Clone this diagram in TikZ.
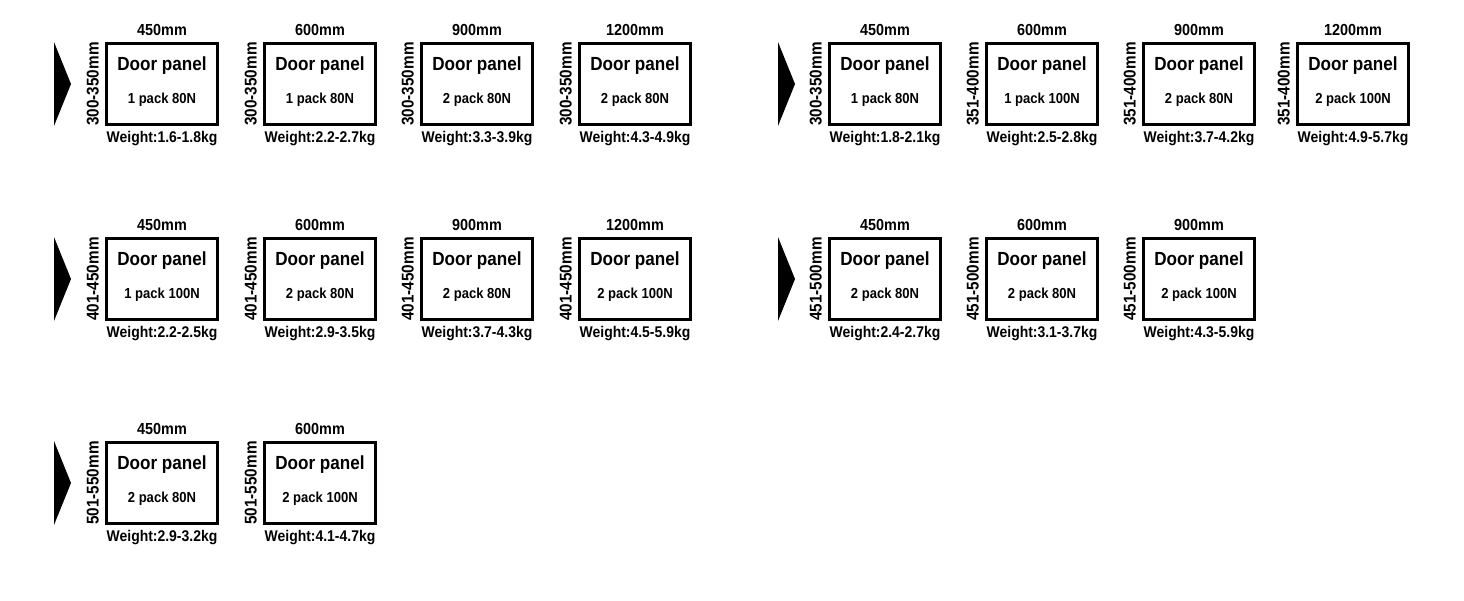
\documentclass[tikz,border=0pt]{standalone}
\usepackage{fontspec}
\setmainfont{Liberation Sans}[FakeStretch=0.9]
\usepackage{tikz}
\tikzset{
  panel/.style  = {rectangle, draw=black, line width=3pt, minimum width=111pt,
                   minimum height=81pt, inner sep=0pt},
  hlab/.style   = {font=\fontsize{16}{16}\selectfont\bfseries, inner sep=0pt, anchor=south},
  vlab/.style   = {font=\fontsize{17}{17}\selectfont\bfseries, inner sep=0pt, rotate=90,
                   anchor=south},
  kglab/.style  = {font=\fontsize{15.5}{16}\selectfont\bfseries, inner sep=0pt, anchor=north},
  title/.style  = {font=\fontsize{19}{19}\selectfont\bfseries, inner sep=0pt, anchor=base},
  pack/.style   = {font=\fontsize{14.5}{15}\selectfont\bfseries, inner sep=0pt, anchor=base},
  marker/.style = {fill=black},
}

\begin{document}
\begin{tikzpicture}[x=1pt, y=-1pt]
  \useasboundingbox (0,0) rectangle (1464,600);
  % row markers
  \foreach \mx/\my in {54/42, 778/42, 54/237, 778/237, 54/441}
    \fill[marker] (\mx,\my) -- ++(17,42) -- ++(-17,42) -- cycle;
  % panels
  \foreach \x/\y/\w/\h/\p/\kg [count=\i] in {
      162/84/450mm/300-350mm/1 pack 80N/1.6-1.8,
      320/84/600mm/300-350mm/1 pack 80N/2.2-2.7,
      477/84/900mm/300-350mm/2 pack 80N/3.3-3.9,
      635/84/1200mm/300-350mm/2 pack 80N/4.3-4.9,
      885/84/450mm/300-350mm/1 pack 80N/1.8-2.1,
      1042/84/600mm/351-400mm/1 pack 100N/2.5-2.8,
      1199/84/900mm/351-400mm/2 pack 80N/3.7-4.2,
      1353/84/1200mm/351-400mm/2 pack 100N/4.9-5.7,
      162/279/450mm/401-450mm/1 pack 100N/2.2-2.5,
      320/279/600mm/401-450mm/2 pack 80N/2.9-3.5,
      477/279/900mm/401-450mm/2 pack 80N/3.7-4.3,
      635/279/1200mm/401-450mm/2 pack 100N/4.5-5.9,
      885/279/450mm/451-500mm/2 pack 80N/2.4-2.7,
      1042/279/600mm/451-500mm/2 pack 80N/3.1-3.7,
      1199/279/900mm/451-500mm/2 pack 100N/4.3-5.9,
      162/483/450mm/501-550mm/2 pack 80N/2.9-3.2,
      320/483/600mm/501-550mm/2 pack 100N/4.1-4.7} {
    \node[panel] (p\i) at (\x,\y) {};
    \node[hlab] (w\i) at ([yshift=6pt]p\i.north) {\w};
    \node[vlab] (h\i) at ([xshift=-6pt]p\i.west) {\h};
    \node[kglab] (k\i) at ([yshift=-5pt]p\i.south) {Weight:\kg kg};
    \node[title] (t\i) at ([yshift=14pt]p\i.center) {Door panel};
    \node[pack] (n\i) at ([yshift=-19.5pt]p\i.center) {\p};
  }
\end{tikzpicture}
\end{document}
